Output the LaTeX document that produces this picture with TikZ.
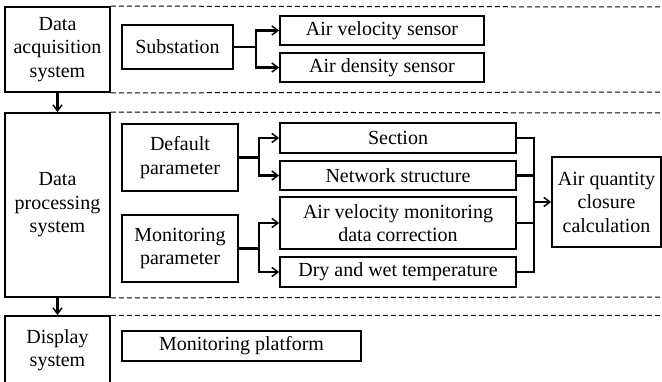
\documentclass[tikz,border=0pt]{standalone}
\usepackage{fontspec}
\setmainfont{Liberation Serif}
\usetikzlibrary{arrows.meta}
\begin{document}
\begin{tikzpicture}[x=1pt,y=-1pt,
  box/.style={draw,line width=1.8pt,align=center,inner sep=0pt,font=\fontsize{20}{23.5}\selectfont},
  conn/.style={line width=2.5pt},
  arr/.style={line width=2.2pt,-{Straight Barb[length=6pt,width=9pt,line width=1.5pt]}},
  sep/.style={line width=1pt,dash pattern=on 5pt off 3pt}]
\useasboundingbox (0,0) rectangle (662,381);
\clip (0,0) rectangle (662,381);
% left column
\node[box,minimum width=105pt,minimum height=85pt] (acq) at (57.5,49.5) {Data\\acquisition\\system};
\node[box,minimum width=105pt,minimum height=184pt] (proc) at (57.5,205) {Data\\processing\\system};
\node[box,minimum width=105pt,minimum height=85pt,anchor=north] (disp) at (57.5,315) {};
\node[font=\fontsize{20}{23.5}\selectfont,align=center] (disptxt) at (57.5,350) {Display\\system};
% dashed separators
\draw[sep] (acq.north east) -- (662,7);
\draw[sep] (acq.south east) -- (662,92);
\draw[sep] (proc.north east) -- (662,113);
\draw[sep] (proc.south east) -- (662,297);
\draw[sep] (disp.north east) -- (662,315);
% acquisition
\node[box,minimum width=111pt,minimum height=44pt] (sub) at (177.5,47) {Substation};
\node[box,minimum width=204pt,minimum height=29pt] (avs) at (382,30.5) {Air velocity sensor};
\node[box,minimum width=204pt,minimum height=29pt] (ads) at (382,67.5) {Air density sensor};
% processing
\node[box,minimum width=116pt,minimum height=67pt] (dp) at (180,157.5) {Default\\parameter};
\node[box,minimum width=116pt,minimum height=67pt] (mp) at (180,248.5) {Monitoring\\parameter};
\node[box,minimum width=236pt,minimum height=30pt] (sec) at (398,138) {Section};
\node[box,minimum width=236pt,minimum height=29pt] (net) at (398,175.5) {Network structure};
\node[box,minimum width=236pt,minimum height=52pt] (avm) at (398,223) {Air velocity monitoring\\data correction};
\node[box,minimum width=236pt,minimum height=30pt] (dwt) at (398,272) {Dry and wet temperature};
\node[box,minimum width=109pt,minimum height=90pt] (aqc) at (606.5,202) {Air quantity\\closure\\calculation};
% display
\node[box,minimum width=239pt,minimum height=30pt] (plat) at (241.5,346) {Monitoring platform};
% connectors
\draw[arr] (acq.south) -- (proc.north);
\draw[arr] (proc.south) -- (disp.north);
\coordinate (j1) at (256,47);
\draw[conn] (sub.east) -- (j1);
\draw[arr] (j1) |- (avs.west);
\draw[arr] (j1) |- (ads.west);
\coordinate (j2) at (259,157.5);
\draw[conn] (dp.east) -- (j2);
\draw[arr] (j2) |- (sec.west);
\draw[arr] (j2) |- (net.west);
\coordinate (j3) at (259,248.5);
\draw[conn] (mp.east) -- (j3);
\draw[arr] (j3) |- (avm.west);
\draw[arr] (j3) |- (dwt.west);
\coordinate (j4) at (534,202);
\draw[conn] (sec.east) -| (j4);
\draw[conn] (net.east) -| (j4);
\draw[conn] (avm.east) -| (j4);
\draw[conn] (dwt.east) -| (j4);
\draw[arr] (j4) -- (aqc.west);
\end{tikzpicture}
\end{document}
